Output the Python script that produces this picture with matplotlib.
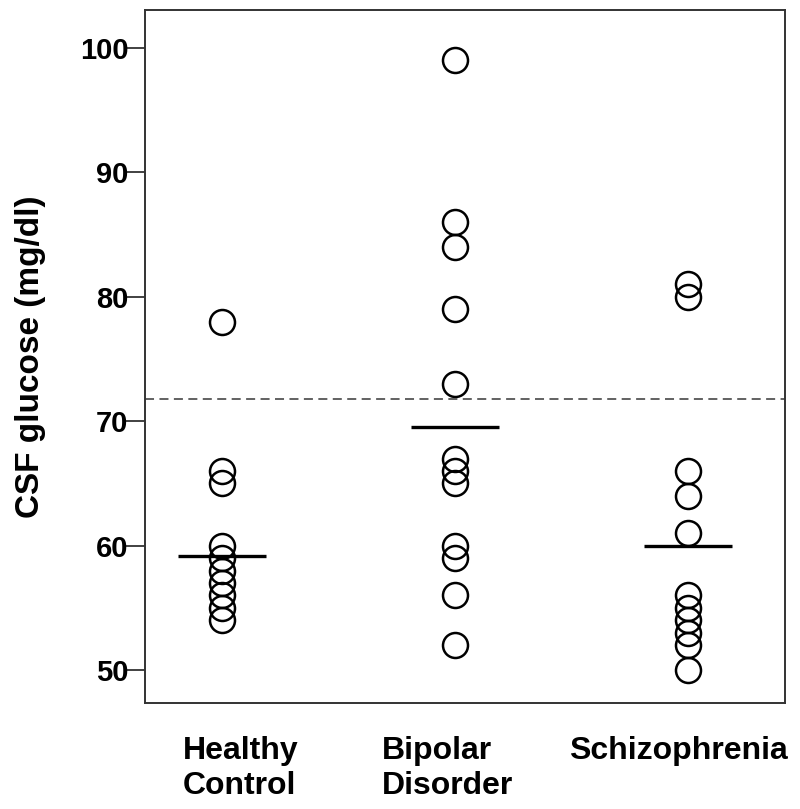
import matplotlib
matplotlib.use("Agg")
import matplotlib.pyplot as plt

groups = ["Healthy\nControl", "Bipolar\nDisorder", "Schizophrenia"]
healthy = [78, 66, 65, 60, 59, 58, 57, 56, 55, 54]
bipolar = [99, 86, 84, 79, 73, 67, 66, 65, 60, 59, 56, 52]
schizo = [81, 80, 66, 64, 61, 56, 55, 54, 53, 52, 50]
means = [59.2, 69.5, 60.0]
reference_level = 71.8
yticks = [50, 60, 70, 80, 90, 100]

plt.rcParams['font.family'] = ['Liberation Sans', 'DejaVu Sans']
fig = plt.figure(figsize=(8, 8.09), dpi=100)
ax = fig.add_axes([0.18125, 0.131, 0.8, 0.8566])

for i, vals in enumerate([healthy, bipolar, schizo]):
    ax.plot([i] * len(vals), vals, linestyle='none', marker='o', markersize=18,
            markerfacecolor='none', markeredgecolor='black', markeredgewidth=1.8)
    ax.plot([i - 0.19, i + 0.19], [means[i], means[i]], color='black', lw=2.4,
            solid_capstyle='butt')

ax.axhline(reference_level, color='#555555', lw=1.3, ls=(0, (5, 3)))

ax.set_xlim(-0.33, 2.416)
ax.set_ylim(47.35, 103.05)
ax.set_yticks(yticks)
ax.set_yticklabels([str(t) for t in yticks], fontsize=21, fontweight='bold')
ax.set_xticks([0.08, 0.97, 1.96])
ax.set_xticklabels(groups, fontsize=23, fontweight='bold', multialignment='left',
                   linespacing=1.2)
ax.tick_params(axis='x', length=0, pad=24)
ax.tick_params(axis='y', length=15, width=1.3, direction='out', pad=-3, color='#333333')
ax.set_ylabel("CSF glucose (mg/dl)", fontsize=24, fontweight='bold', labelpad=24)
for s in ax.spines.values():
    s.set_linewidth(1.4)
    s.set_color('#333333')

fig.savefig("out.png", dpi=100)
